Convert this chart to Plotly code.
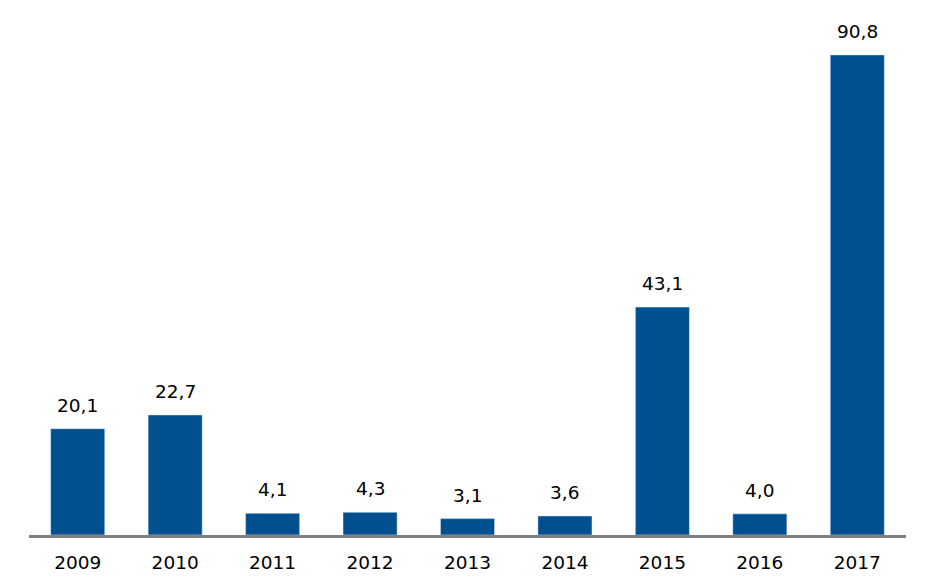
import plotly.graph_objects as go

years = ["2009", "2010", "2011", "2012", "2013", "2014", "2015", "2016", "2017"]
values = [20.1, 22.7, 4.1, 4.3, 3.1, 3.6, 43.1, 4.0, 90.8]

BAR_COLOR = "#004F8F"
FONT = "DejaVu Sans, Verdana, sans-serif"
FS = 18.5

fig = go.Figure()
fig.add_trace(go.Bar(
    x=years, y=values, marker_color=BAR_COLOR, width=0.555,
    hoverinfo="skip",
))

for i, v in enumerate(values):
    fig.add_annotation(
        x=i, y=v, text=f"{v:.1f}".replace(".", ","), showarrow=False,
        yanchor="bottom", yshift=11,
        font=dict(family=FONT, size=FS, color="#000000"),
    )

fig.update_layout(
    width=931, height=588,
    margin=dict(l=21, r=33, t=12, b=61),
    paper_bgcolor="white", plot_bgcolor="white",
    showlegend=False,
    font=dict(family=FONT, size=FS, color="#000000"),
)
fig.update_xaxes(
    type="category", range=[-0.5, len(years) - 0.5],
    showline=True, linecolor="#808080", linewidth=3,
    ticks="outside", ticklen=0, ticklabelstandoff=9,
    tickfont=dict(family=FONT, size=FS, color="#000000"),
    showgrid=False, zeroline=False, automargin=False,
)
fig.update_yaxes(
    range=[0, 97.4], visible=False, showgrid=False, zeroline=False,
)

fig.write_html("out.html")
